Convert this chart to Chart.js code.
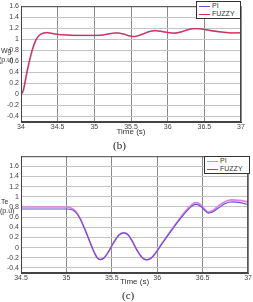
<!DOCTYPE html>
<html>
<head>
<meta charset="utf-8">
<script src="https://cdn.jsdelivr.net/npm/chart.js@4/dist/chart.umd.min.js"></script>
<style>
  body { margin: 0; background: #fff; font-family: "Liberation Sans", Arial, sans-serif; }
  #page { position: relative; width: 253px; height: 302px; overflow: hidden; }
  .box { position: absolute; left: 0; width: 253px; height: 138px; }
  .lbl { position: absolute; font-size: 7px; color: #333; line-height: 8px; }
  .cap { position: absolute; font-family: "Liberation Serif", serif; font-size: 11px; color: #222; }
  .leg { position: absolute; background: #fff; border: 1px solid #333; font-size: 7px; color: #333; line-height: 8px; padding: 0 2px; }
  .leg div { white-space: nowrap; }
  .leg span { display: inline-block; width: 11px; height: 1px; vertical-align: middle; margin-right: 2px; }
</style>
</head>
<body>
<div id="page">
  <div class="box" style="top:0"><canvas id="chartB"></canvas></div>
  <div class="box" style="top:150px"><canvas id="chartC"></canvas></div>

  <div class="lbl" style="left:1px;top:47px">Wg</div>
  <div class="lbl" style="left:-1px;top:56px">(p.u)</div>
  <div class="lbl" style="left:1px;top:198px">Te</div>
  <div class="lbl" style="left:0px;top:207px">(p.u)</div>

  <div class="cap" style="left:113px;top:139px">(b)</div>
  <div class="cap" style="left:122px;top:289px">(c)</div>

  <div class="leg" style="left:196px;top:1px;width:39px">
    <div><span style="background:#6a4cc8"></span>PI</div>
    <div><span style="background:#d8304e"></span>FUZZY</div>
  </div>
  <div class="leg" style="left:204px;top:156px;width:40px">
    <div><span style="background:#e07ee6"></span>PI</div>
    <div><span style="background:#6a50d2"></span>FUZZY</div>
  </div>
</div>
<script>
// (b) rotor speed Wg
const timeB = [34, 34.03, 34.08, 34.12, 34.16, 34.2, 34.25, 34.3, 34.36, 34.45, 34.6, 34.8, 35.0, 35.1, 35.2, 35.3, 35.4, 35.48, 35.55, 35.65, 35.75, 35.83, 35.95, 36.08, 36.2, 36.35, 36.45, 36.6, 36.75, 36.9, 37];
const piB = [0, 0.06, 0.38, 0.62, 0.82, 0.97, 1.07, 1.11, 1.12, 1.1, 1.08, 1.07, 1.07, 1.075, 1.1, 1.115, 1.095, 1.06, 1.05, 1.09, 1.14, 1.157, 1.135, 1.11, 1.14, 1.195, 1.19, 1.155, 1.13, 1.115, 1.12];
const fuzzyB = [0, 0.07, 0.4, 0.64, 0.84, 0.98, 1.075, 1.11, 1.12, 1.1, 1.08, 1.07, 1.07, 1.075, 1.1, 1.115, 1.095, 1.06, 1.05, 1.09, 1.14, 1.157, 1.135, 1.11, 1.14, 1.195, 1.19, 1.155, 1.13, 1.115, 1.12];
const xTicksB = [34, 34.5, 35, 35.5, 36, 36.5, 37];
const yTicksB = [-0.4, -0.2, 0, 0.2, 0.4, 0.6, 0.8, 1, 1.2, 1.4, 1.6];

// (c) torque Te
const timeC = [34.5, 35.0, 35.04, 35.1, 35.15, 35.2, 35.25, 35.3, 35.34, 35.37, 35.41, 35.46, 35.52, 35.58, 35.63, 35.68, 35.73, 35.78, 35.83, 35.88, 35.93, 35.98, 36.05, 36.15, 36.25, 36.33, 36.39, 36.43, 36.48, 36.52, 36.56, 36.61, 36.68, 36.75, 36.82, 36.9, 37];
const piC = [0.8, 0.8, 0.79, 0.72, 0.58, 0.38, 0.15, -0.07, -0.2, -0.235, -0.21, -0.09, 0.1, 0.25, 0.29, 0.25, 0.11, -0.06, -0.19, -0.24, -0.21, -0.11, 0.08, 0.34, 0.58, 0.76, 0.86, 0.885, 0.84, 0.76, 0.7, 0.73, 0.83, 0.91, 0.94, 0.93, 0.9];
const fuzzyC = [0.76, 0.76, 0.755, 0.7, 0.57, 0.37, 0.15, -0.07, -0.2, -0.235, -0.21, -0.09, 0.1, 0.25, 0.29, 0.25, 0.11, -0.06, -0.19, -0.24, -0.21, -0.11, 0.07, 0.32, 0.56, 0.73, 0.83, 0.85, 0.81, 0.74, 0.68, 0.7, 0.79, 0.87, 0.9, 0.89, 0.85];
const xTicksC = [34.5, 35, 35.5, 36, 36.5, 37];
const yTicksC = [-0.4, -0.2, 0, 0.2, 0.4, 0.6, 0.8, 1, 1.2, 1.4, 1.6];

const toPoints = (xs, ys) => xs.map((x, i) => ({ x: x, y: ys[i] }));

// frame round the plot area, like the matlab axes box
const framePlugin = {
    id: 'frame',
    afterDraw(chart) {
        const a = chart.chartArea;
        const ctx = chart.ctx;
        ctx.save();
        ctx.strokeStyle = '#444';
        ctx.lineWidth = 1;
        ctx.strokeRect(a.left + 0.5, a.top + 0.5, a.right - a.left - 1, a.bottom - a.top - 1);
        ctx.restore();
    }
};

function makeChart(id, cfg) {
    return new Chart(document.getElementById(id), {
        type: 'line',
        data: { datasets: cfg.datasets },
        options: {
            responsive: true,
            maintainAspectRatio: false,
            animation: false,
            layout: { padding: { top: cfg.padTop, right: cfg.padRight, left: 0, bottom: 0 } },
            plugins: { legend: { display: false }, tooltip: { enabled: false } },
            elements: { point: { radius: 0 }, line: { cubicInterpolationMode: 'monotone' } },
            scales: {
                x: {
                    type: 'linear',
                    min: cfg.xMin,
                    max: cfg.xMax,
                    afterBuildTicks: s => { s.ticks = cfg.xTicks.map(v => ({ value: v })); },
                    afterFit: s => { s.height = cfg.xHeight; },
                    ticks: { font: { size: 7 }, color: '#444', padding: 1, maxRotation: 0, autoSkip: false, callback: v => String(v) },
                    grid: { color: '#8a8a8a', drawTicks: false },
                    border: { color: '#444' },
                    title: { display: true, text: 'Time (s)', font: { size: 8 }, color: '#333', padding: { top: 0, bottom: 1 } }
                },
                y: {
                    min: cfg.yMin,
                    max: cfg.yMax,
                    afterBuildTicks: s => { s.ticks = cfg.yTicks.map(v => ({ value: v })); },
                    afterFit: s => { s.width = 21; },
                    ticks: { font: { size: 7 }, color: '#444', padding: 2, autoSkip: false, callback: v => String(v) },
                    grid: { color: '#c4c4c4', drawTicks: false },
                    border: { color: '#444' }
                }
            }
        },
        plugins: [framePlugin]
    });
}

makeChart('chartB', {
    padTop: 2, padRight: 12, xHeight: 16,
    xMin: 34, xMax: 37, yMin: -0.5, yMax: 1.6,
    xTicks: xTicksB, yTicks: yTicksB,
    datasets: [
        { label: 'FUZZY', data: toPoints(timeB, fuzzyB), borderColor: '#d8304e', borderWidth: 1.3, order: 1 },
        { label: 'PI', data: toPoints(timeB, piB), borderColor: 'rgba(106, 76, 200, 0.45)', borderWidth: 1.6, order: 2 }
    ]
});

makeChart('chartC', {
    padTop: 6, padRight: 2, xHeight: 15,
    xMin: 34.5, xMax: 37, yMin: -0.5, yMax: 1.8,
    xTicks: xTicksC, yTicks: yTicksC,
    datasets: [
        { label: 'PI', data: toPoints(timeC, piC), borderColor: '#e07ee6', borderWidth: 1.6, order: 2 },
        { label: 'FUZZY', data: toPoints(timeC, fuzzyC), borderColor: '#6a50d2', borderWidth: 1.2, order: 1 }
    ]
});
</script>
</body>
</html>
